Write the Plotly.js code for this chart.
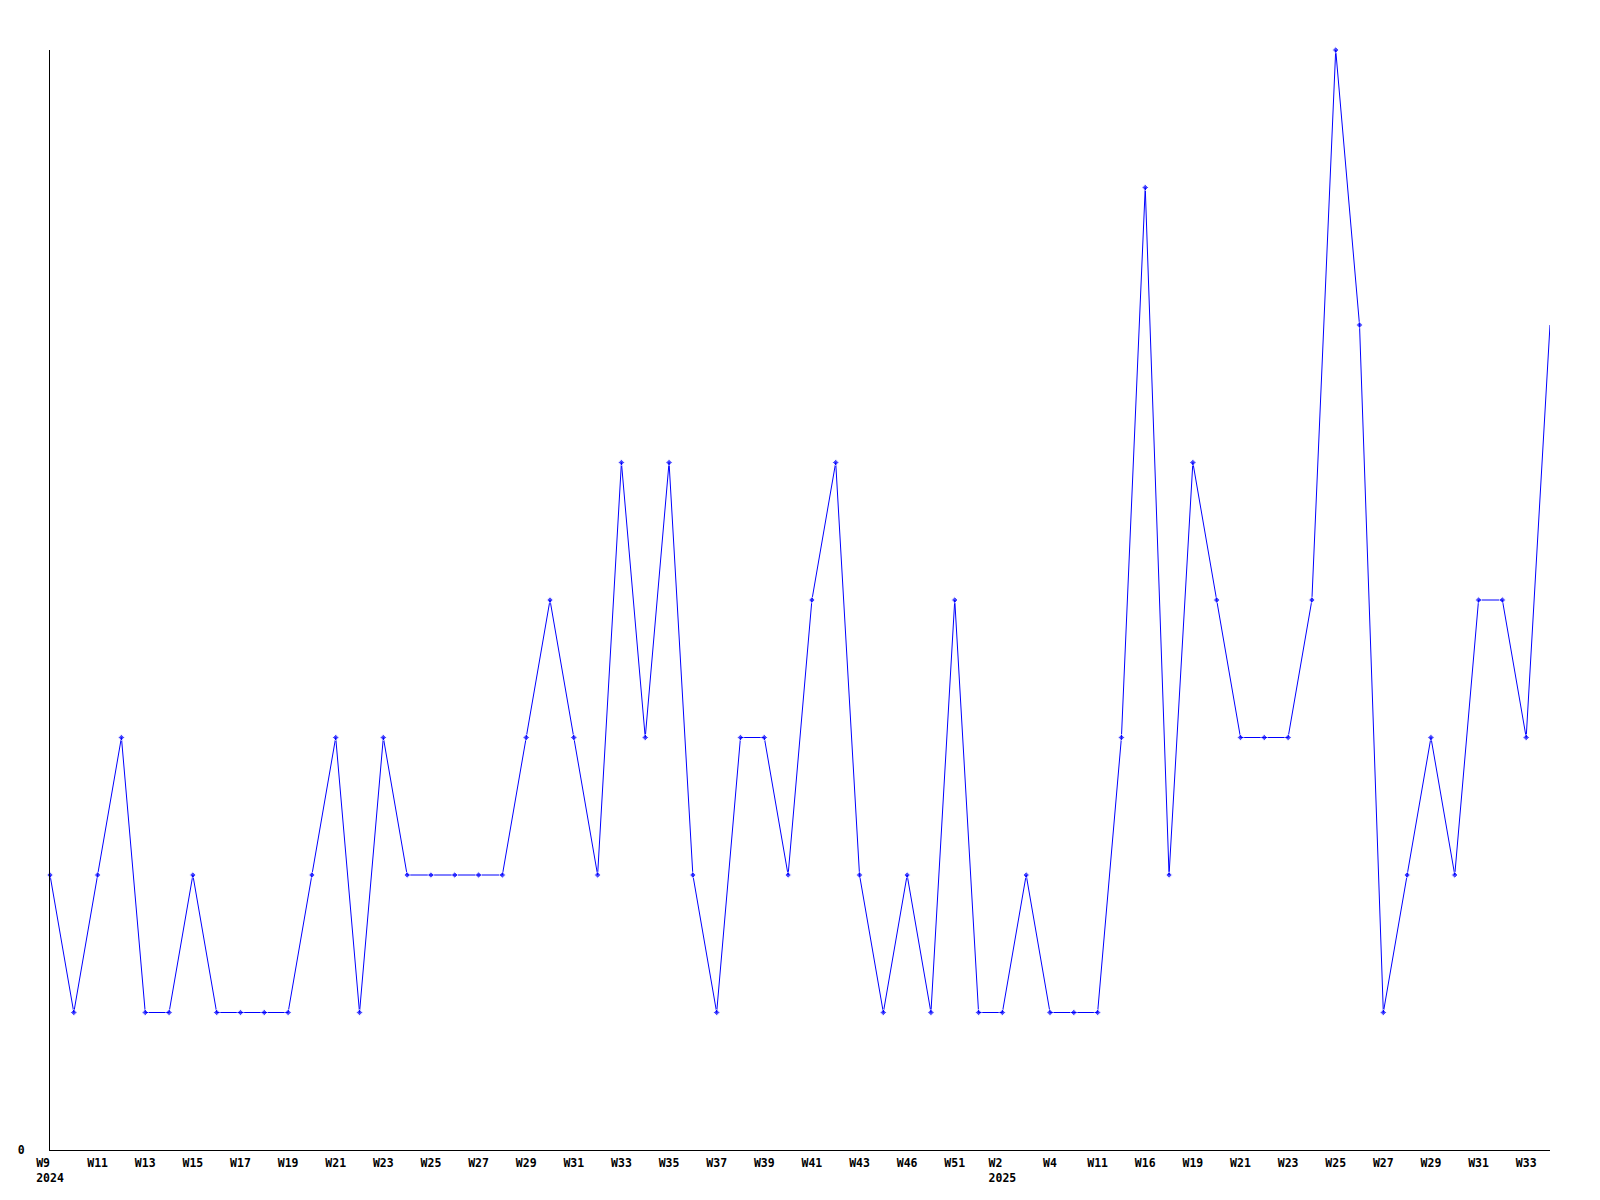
<!DOCTYPE html>
<html>
<head>
<meta charset="utf-8">
<script src="https://cdn.plot.ly/plotly-3.0.1.min.js"></script>
<style>html,body{margin:0;padding:0;background:#fff;}</style>
</head>
<body>
<div id="chart" style="width:1600px;height:1200px;"></div>
<script>
// Week categories (year-week)
const weeks = [
  "2024-W9","2024-W10","2024-W11","2024-W12","2024-W13","2024-W14","2024-W15","2024-W16",
  "2024-W17","2024-W18","2024-W19","2024-W20","2024-W21","2024-W22","2024-W23","2024-W24",
  "2024-W25","2024-W26","2024-W27","2024-W28","2024-W29","2024-W30","2024-W31","2024-W32",
  "2024-W33","2024-W34","2024-W35","2024-W36","2024-W37","2024-W38","2024-W39","2024-W40",
  "2024-W41","2024-W42","2024-W43","2024-W44","2024-W46","2024-W48","2024-W51","2024-W52",
  "2025-W2","2025-W3","2025-W4","2025-W8","2025-W11","2025-W14","2025-W16","2025-W18",
  "2025-W19","2025-W20","2025-W21","2025-W22","2025-W23","2025-W24","2025-W25","2025-W26",
  "2025-W27","2025-W28","2025-W29","2025-W30","2025-W31","2025-W32","2025-W33","2025-W34"
];
// Counts per week
const counts = [
  2,1,2,3,1,1,2,1,
  1,1,1,2,3,1,3,2,
  2,2,2,2,3,4,3,2,
  5,3,5,2,1,3,3,2,
  4,5,2,1,2,1,4,1,
  1,2,1,1,1,3,7,2,
  5,4,3,3,3,4,8,6,
  1,2,3,2,4,4,3,6
];
// Labelled ticks
const tickWeeks = [
  "2024-W9","2024-W11","2024-W13","2024-W15","2024-W17","2024-W19","2024-W21","2024-W23",
  "2024-W25","2024-W27","2024-W29","2024-W31","2024-W33","2024-W35","2024-W37","2024-W39",
  "2024-W41","2024-W43","2024-W46","2024-W51","2025-W2","2025-W4","2025-W11","2025-W16",
  "2025-W19","2025-W21","2025-W23","2025-W25","2025-W27","2025-W29","2025-W31","2025-W33"
];
const tickLabels = [
  "W9  <br>2024","W11","W13","W15","W17","W19","W21","W23",
  "W25","W27","W29","W31","W33","W35","W37","W39",
  "W41","W43","W46","W51","W2  <br>2025","W4","W11","W16",
  "W19","W21","W23","W25","W27","W29","W31","W33"
];
const yTicks = [0];
const yTickLabels = ["0"];

const font = {family: "DejaVu Sans Mono, monospace", size: 11.5, color: "#000", weight: "bold"};

// the last (still open) week is drawn without a marker
const markerSizes = counts.map((_, i) => (i === counts.length - 1 ? 0 : 5));

const trace = {
  type: "scatter",
  mode: "lines+markers",
  x: weeks,
  y: counts,
  line: {color: "#0000ff", width: 1},
  marker: {color: "#0000ff", size: markerSizes, symbol: "diamond"},
  cliponaxis: false,
  hoverinfo: "x+y"
};

const layout = {
  width: 1600, height: 1200,
  paper_bgcolor: "#fff", plot_bgcolor: "#fff",
  margin: {l: 50, r: 50, t: 50, b: 50},
  showlegend: false,
  font: font,
  xaxis: {
    type: "category",
    categoryorder: "array",
    categoryarray: weeks,
    range: [0, weeks.length - 1],
    tickmode: "array",
    tickvals: tickWeeks,
    ticktext: tickLabels,
    tickangle: 0,
    showgrid: false, zeroline: false,
    showline: true, linecolor: "#000", linewidth: 1,
    ticks: "", ticklabelstandoff: 2,
    tickfont: font
  },
  yaxis: {
    range: [0, 8],
    tickmode: "array",
    tickvals: yTicks,
    ticktext: yTickLabels,
    showgrid: false, zeroline: false,
    showline: true, linecolor: "#000", linewidth: 1,
    ticks: "", ticklabelstandoff: 22,
    tickfont: font
  }
};

Plotly.newPlot("chart", [trace], layout, {staticPlot: true, displayModeBar: false});
</script>
</body>
</html>
